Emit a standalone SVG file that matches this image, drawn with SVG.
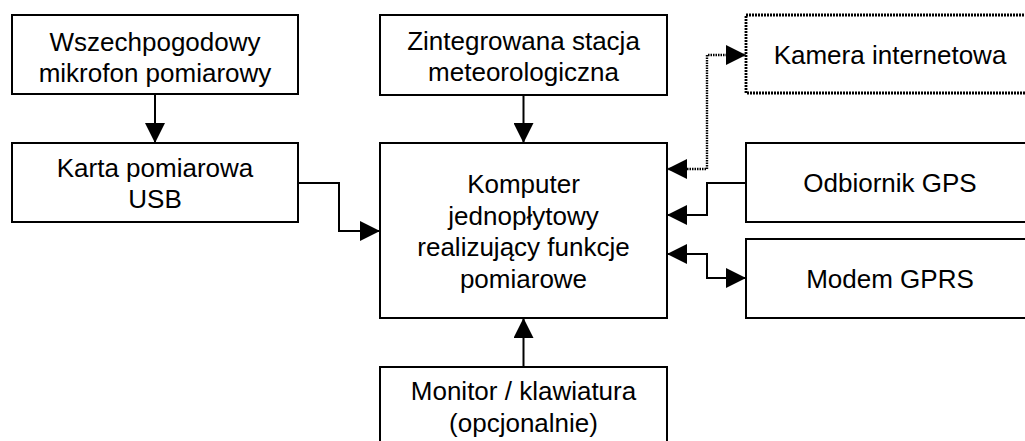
<svg xmlns="http://www.w3.org/2000/svg" width="1025" height="441" viewBox="0 0 1025 441">
  <style>
    .box { fill: #ffffff; stroke: #000000; stroke-width: 2; }
    .dotted { stroke-dasharray: 2 1; stroke-width: 2.8; }
    .lbl { font-family: "Liberation Sans", Arial, sans-serif; font-size: 26px; fill: #000000; text-anchor: middle; }
    .wire { fill: none; stroke: #000000; stroke-width: 2; }
    .wire-dot { fill: none; stroke: #000000; stroke-width: 2.4; stroke-dasharray: 1.5 1; }
  </style>
  <defs>
    <marker id="arrow" viewBox="0 0 20 20" refX="20" refY="10" markerWidth="20" markerHeight="20" markerUnits="userSpaceOnUse" orient="auto-start-reverse">
      <path d="M0 0 L20 10 L0 20 Z" fill="#000000"/>
    </marker>
  </defs>
  <rect width="1025" height="441" fill="#ffffff"/>

  <g id="connectors">
    <path class="wire" d="M155 94 V143" marker-end="url(#arrow)"/>
    <path class="wire" d="M523.5 95 V143" marker-end="url(#arrow)"/>
    <path class="wire" d="M523.5 367 V318" marker-end="url(#arrow)"/>
    <path class="wire" d="M298 183 H339 V231 H380" marker-end="url(#arrow)"/>
    <path class="wire-dot" d="M667 169 H707 V55 H746" marker-start="url(#arrow)" marker-end="url(#arrow)"/>
    <path class="wire" d="M746 183 H707 V215 H667" marker-end="url(#arrow)"/>
    <path class="wire" d="M667 254 H707 V278 H746" marker-start="url(#arrow)" marker-end="url(#arrow)"/>
  </g>

  <g id="mikrofon">
    <rect class="box" x="12" y="15" width="286" height="79"/>
    <text class="lbl" x="155" y="51">Wszechpogodowy</text>
    <text class="lbl" x="155" y="82">mikrofon pomiarowy</text>
  </g>

  <g id="karta-usb">
    <rect class="box" x="12" y="143" width="286" height="79"/>
    <text class="lbl" x="155" y="177">Karta pomiarowa</text>
    <text class="lbl" x="155" y="208">USB</text>
  </g>

  <g id="stacja">
    <rect class="box" x="380" y="15" width="287" height="80"/>
    <text class="lbl" x="523.5" y="50">Zintegrowana stacja</text>
    <text class="lbl" x="523.5" y="81">meteorologiczna</text>
  </g>

  <g id="komputer">
    <rect class="box" x="380" y="143" width="287" height="175"/>
    <text class="lbl" x="523.5" y="193">Komputer</text>
    <text class="lbl" x="523.5" y="224.5">jednopłytowy</text>
    <text class="lbl" x="523.5" y="256">realizujący funkcje</text>
    <text class="lbl" x="523.5" y="287.5">pomiarowe</text>
  </g>

  <g id="monitor">
    <rect class="box" x="380" y="367" width="287" height="80"/>
    <text class="lbl" x="523.5" y="400">Monitor / klawiatura</text>
    <text class="lbl" x="523.5" y="432">(opcjonalnie)</text>
  </g>

  <g id="kamera">
    <rect class="box dotted" x="746" y="15" width="288" height="78"/>
    <text class="lbl" x="890" y="64">Kamera internetowa</text>
  </g>

  <g id="gps">
    <rect class="box" x="746" y="143" width="288" height="79"/>
    <text class="lbl" x="890" y="192">Odbiornik GPS</text>
  </g>

  <g id="modem">
    <rect class="box" x="746" y="239" width="288" height="79"/>
    <text class="lbl" x="890" y="288">Modem GPRS</text>
  </g>
</svg>
